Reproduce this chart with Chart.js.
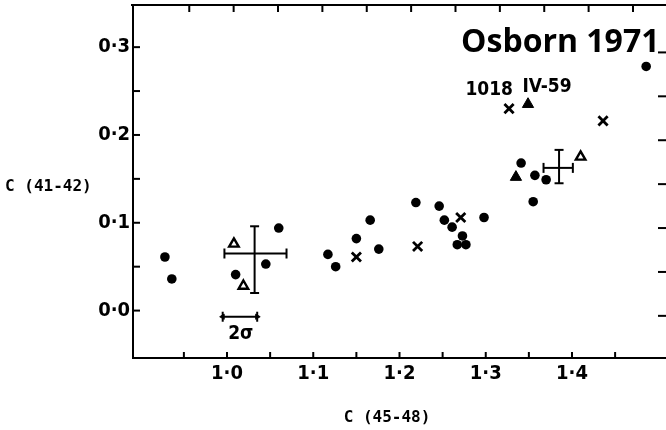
<!DOCTYPE html>
<html>
<head>
<meta charset="utf-8">
<script src="https://cdn.jsdelivr.net/npm/chart.js@4.4.1/dist/chart.umd.min.js"></script>
<style>
html, body { margin: 0; padding: 0; background: #fff; overflow: hidden; }
</style>
</head>
<body>
<canvas id="chart" width="666" height="430"></canvas>
<script>
// C(45-48) against C(41-42)

// filled circles
const circleX = [0.928, 0.936, 1.010, 1.045, 1.060, 1.117, 1.126, 1.150, 1.166, 1.176, 1.219, 1.246,
                 1.252, 1.261, 1.273, 1.267, 1.277, 1.298, 1.341, 1.355, 1.357, 1.370, 1.486];
const circleY = [0.061, 0.036, 0.041, 0.053, 0.094, 0.064, 0.050, 0.082, 0.103, 0.070, 0.123, 0.119,
                 0.103, 0.095, 0.085, 0.075, 0.075, 0.106, 0.168, 0.124, 0.154, 0.149, 0.278];
// crosses
const crossX = [1.150, 1.221, 1.271, 1.327, 1.436];
const crossY = [0.061, 0.073, 0.106, 0.230, 0.216];
// filled triangles
const solidTriX = [1.335, 1.349];
const solidTriY = [0.152, 0.235];
// open triangles
const openTriX = [1.008, 1.019, 1.410];
const openTriY = [0.076, 0.028, 0.175];

// typical error crosses
const errX = [1.032, 1.385];
const errY = [0.065, 0.1625];
const errLeft = [0.997, 1.367];
const errRight = [1.069, 1.401];
const errBottom = [0.020, 0.145];
const errTop = [0.096, 0.183];

// the 2 sigma bar
const sigmaFrom = 0.995;
const sigmaTo = 1.035;
const sigmaY = -0.007;

// ticks
const xTickValues = [0.95, 1.0, 1.05, 1.1, 1.15, 1.2, 1.25, 1.3, 1.35, 1.4, 1.45];
const xTickLabels = ['', '1·0', '', '1·1', '', '1·2', '', '1·3', '', '1·4', ''];
const yTickValues = [0.0, 0.05, 0.1, 0.15, 0.2, 0.25, 0.3];
const yTickLabels = ['0·0', '', '0·1', '', '0·2', '', '0·3'];

// labels written on the plot
const notes = [
  { text: '1018', x: 1.304, y: 0.251 },
  { text: 'IV-59', x: 1.371, y: 0.254 },
  { text: '2σ', x: 1.016, y: -0.027 }
];

const narrow = "'Liberation Sans Narrow', 'DejaVu Sans Condensed', 'DejaVu Sans', sans-serif";

function pts(xs, ys) {
  return xs.map((x, i) => ({ x: x, y: ys[i] }));
}

const datasets = [
  { data: pts(circleX, circleY), pointStyle: 'circle', pointRadius: 4.8, backgroundColor: '#000', borderColor: '#000', borderWidth: 0 },
  { data: pts(crossX, crossY), pointStyle: 'crossRot', pointRadius: 6.5, borderColor: '#000', borderWidth: 2.8 },
  { data: pts(solidTriX, solidTriY), pointStyle: 'triangle', pointRadius: 6.5, backgroundColor: '#000', borderColor: '#000', borderWidth: 1 },
  { data: pts(openTriX, openTriY), pointStyle: 'triangle', pointRadius: 5.5, backgroundColor: '#fff', borderColor: '#000', borderWidth: 2.4 }
];

const barLine = {
  type: 'line', showLine: true, borderColor: '#000', borderWidth: 2,
  backgroundColor: '#000', pointBorderColor: '#000', pointBorderWidth: 2, pointStyle: 'line'
};

errX.forEach((cx, i) => {
  datasets.push(Object.assign({}, barLine, {
    data: [{ x: errLeft[i], y: errY[i] }, { x: errRight[i], y: errY[i] }],
    pointRadius: 5, pointRotation: 90
  }));
  datasets.push(Object.assign({}, barLine, {
    data: [{ x: cx, y: errBottom[i] }, { x: cx, y: errTop[i] }],
    pointRadius: 4.5, pointRotation: 0
  }));
});

datasets.push(Object.assign({}, barLine, {
  data: [{ x: sigmaFrom, y: sigmaY }, { x: sigmaTo, y: sigmaY }],
  pointRadius: 5, pointRotation: 90
}));
datasets.push({
  data: [{ x: sigmaFrom, y: sigmaY }, { x: sigmaTo, y: sigmaY }],
  pointStyle: 'triangle', pointRadius: 3, pointRotation: [270, 90],
  backgroundColor: '#000', borderColor: '#000', borderWidth: 1
});

const framePlugin = {
  id: 'frame',
  afterDraw(chart) {
    const { ctx, chartArea: a, scales } = chart;
    ctx.save();
    ctx.strokeStyle = '#000';
    ctx.lineWidth = 2;
    ctx.beginPath();
    ctx.moveTo(a.left - 2, a.top);
    ctx.lineTo(a.right, a.top);
    ctx.stroke();

    function seg(x1, y1, x2, y2) {
      ctx.beginPath();
      ctx.moveTo(x1, y1);
      ctx.lineTo(x2, y2);
      ctx.stroke();
    }
    // inward tick marks on all four sides
    yTickValues.forEach(v => {
      const py = scales.y.getPixelForValue(v);
      seg(a.left, py, a.left + 7, py);
      const qy = scales.y2.getPixelForValue(v);
      seg(a.right - 8, qy, a.right, qy);
    });
    xTickValues.forEach(v => {
      const px = scales.x.getPixelForValue(v);
      seg(px, a.bottom, px, a.bottom - 6);
      const qx = scales.x2.getPixelForValue(v);
      seg(qx, a.top, qx, a.top + 7);
    });

    ctx.fillStyle = '#000';
    ctx.textAlign = 'center';
    ctx.textBaseline = 'middle';
    ctx.font = 'bold 19px ' + narrow;
    notes.forEach(n => {
      ctx.fillText(n.text, scales.x.getPixelForValue(n.x), scales.y.getPixelForValue(n.y));
    });

    // axis titles
    ctx.font = "bold 16px 'DejaVu Sans Mono', monospace";
    ctx.textAlign = 'left';
    ctx.fillText('C (41-42)', 5, 187);
    ctx.textAlign = 'center';
    ctx.fillText('C (45-48)', 387, 418);

    // figure title
    ctx.font = "bold 32px 'Open Sans', sans-serif";
    ctx.textAlign = 'left';
    ctx.textBaseline = 'alphabetic';
    ctx.fillText('Osborn 1971', 461, 52);
    ctx.restore();
  }
};

function noPad(s) {
  s.paddingTop = 0;
  s.paddingBottom = 0;
  s.paddingLeft = 0;
  s.paddingRight = 0;
}

new Chart(document.getElementById('chart'), {
  type: 'scatter',
  data: { datasets: datasets },
  options: {
    responsive: false,
    animation: false,
    layout: { autoPadding: false, padding: { top: 5, left: 0, right: 0, bottom: 0 } },
    plugins: {
      legend: { display: false },
      tooltip: { enabled: false }
    },
    scales: {
      x: {
        type: 'linear', position: 'bottom', min: 0.891, max: 1.509,
        afterBuildTicks: s => { s.ticks = xTickValues.map(v => ({ value: v })); },
        afterFit: s => { s.height = 72; noPad(s); },
        ticks: {
          autoSkip: false, maxRotation: 0, padding: 4, color: '#000',
          font: { family: narrow, size: 20, weight: 'bold' },
          callback: (v, i) => xTickLabels[i]
        },
        grid: { display: false, drawTicks: false },
        border: { display: true, color: '#000', width: 2 }
      },
      y: {
        type: 'linear', position: 'left', min: -0.054, max: 0.348,
        afterBuildTicks: s => { s.ticks = yTickValues.map(v => ({ value: v })); },
        afterFit: s => { s.width = 133; noPad(s); },
        ticks: {
          autoSkip: false, padding: 3, color: '#000',
          font: { family: narrow, size: 20, weight: 'bold' },
          callback: (v, i) => yTickLabels[i]
        },
        grid: { display: false, drawTicks: false },
        border: { display: true, color: '#000', width: 2 }
      },
      x2: { type: 'linear', position: 'top', display: false, min: 0.8866, max: 1.4872, afterFit: noPad },
      y2: { type: 'linear', position: 'right', display: false, min: -0.048, max: 0.354, afterFit: noPad }
    }
  },
  plugins: [framePlugin]
});
</script>
</body>
</html>
